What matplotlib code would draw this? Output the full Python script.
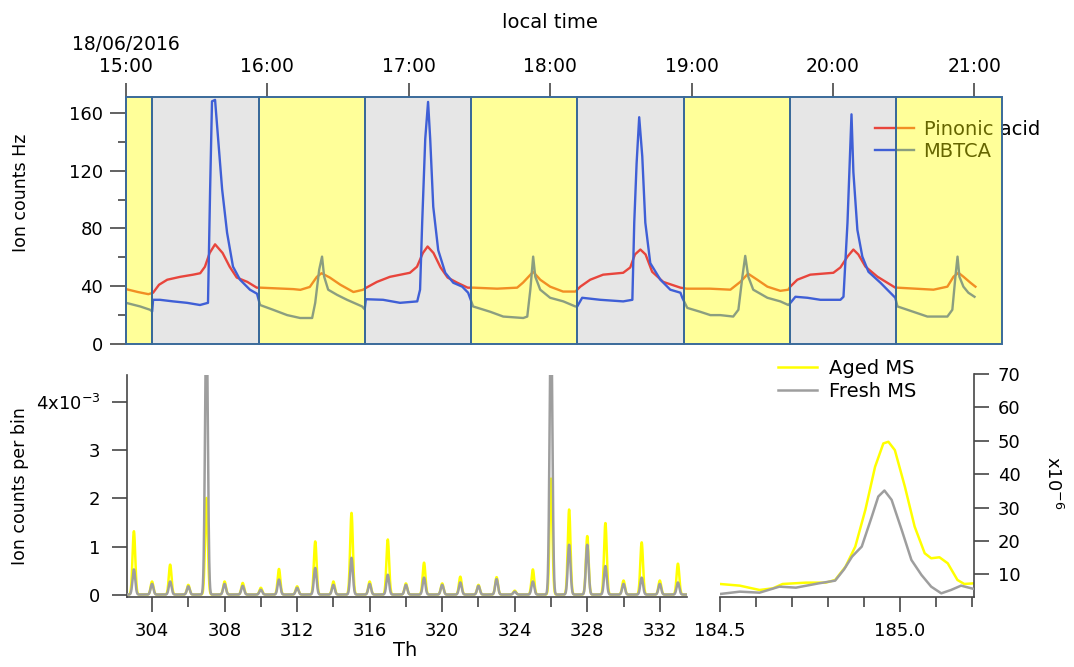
import numpy as np
import matplotlib
matplotlib.use('Agg')
import matplotlib.pyplot as plt
from matplotlib.patches import Rectangle
from matplotlib.ticker import FixedLocator

# ---------------- data ----------------
# top panel: minutes after 15:00 on 18/06/2016
hour_ticks_min = [0, 60, 120, 180, 240, 300, 360]
hour_labels = ['18/06/2016\n15:00', '16:00', '17:00', '18:00', '19:00', '20:00', '21:00']

period_edges = [0, 11.2, 56.6, 101.5, 146.4, 191.4, 236.7, 281.7, 326.8, 371.6]
period_type = ['A', 'B', 'A', 'B', 'A', 'B', 'A', 'B', 'A']

pin_t = [0, 5, 9.5, 11.5, 14, 17.5, 23, 28.5, 31.5, 33.5, 35.5, 37.8, 41, 44, 47, 51.5, 55.5,
         57, 71, 74, 78, 81, 83, 86.5, 91, 96.5, 100.5,
         102, 106.5, 112, 120.5, 123.5, 126, 128, 130.5, 133.5, 136.5, 140.5, 145,
         147.5, 157.5, 166, 168.5, 172.8, 175.8, 180, 185.5, 190.7,
         192.8, 197, 202.5, 211, 214, 216, 218.3, 220.5, 223.3, 228, 235.3,
         238, 247.8, 256.5, 260.7, 264, 267.9, 272.2, 277.7, 281.1,
         281.9, 284.9, 290.4, 300.2, 303.2, 306.2, 308.7, 310.8, 313.8, 318.9, 326.5,
         327.4, 342.7, 348.6, 351.2, 353.3, 355.4, 358.4, 360.5]
pin_v = [38, 36, 34.5, 35.5, 41, 44.5, 46.5, 48, 49, 53.5, 63, 69, 63, 53.5, 46, 43, 39,
         39, 38, 37.5, 39.5, 46.5, 49, 46, 41, 36, 37.5,
         39, 43, 46.5, 49.3, 53.5, 63, 67.5, 63, 53, 46, 42.5, 39,
         39, 38.3, 39, 42.5, 50, 44.5, 39.7, 36.3, 36.3,
         39.7, 44.5, 48, 49.3, 53, 62, 65.4, 62, 50, 43, 39,
         38.3, 38.3, 37.6, 43, 48.7, 44.5, 39.7, 36.8, 37.6,
         39.7, 44.5, 48, 49.3, 53, 60.5, 65.4, 62, 53.6, 46.6, 39,
         39, 37.6, 39.7, 46.6, 49.3, 46.6, 42.4, 39.7]

mb_t = [0, 6, 10.2, 11.1,
        11.5, 14.4, 20, 25.9, 31.4, 34.8, 35.7, 36.5, 37.8, 39.1, 40.8, 42.9, 45.4, 48.4, 52.6, 55.6,
        56.9, 62.4, 68.4, 73.9, 79, 80.3, 82, 83.2, 84.1, 85.8, 89.6, 93.8, 100.2, 101.3,
        101.8, 109.1, 116.3, 123.6, 124.8, 125.7, 127, 128.2, 129.1, 130.4, 132.5, 135.5, 138.9, 142.7, 145.2, 146.3,
        147.3, 154.6, 160.1, 168.6, 170.3, 171.6, 172.8, 173.7, 175.8, 180, 185.6, 190.7,
        191.5, 193.6, 201.3, 211, 214.9, 215.7, 216.7, 217.8, 219.1, 220.4, 222.5, 226.8, 231, 235.3, 236.1,
        238.2, 243.7, 248, 252.2, 257.7, 259.9, 261.6, 262.8, 264.1, 266.2, 272.2, 277.7, 281.1,
        282, 284.1, 289.2, 294.7, 303.2, 304.5, 306.2, 307.9, 308.7, 310.4, 312.5, 315.1, 320.2, 323.1, 326.5,
        327.4, 331.6, 340.1, 348.6, 350.7, 352, 352.9, 353.7, 355.4, 357.5, 360.1]
mb_v = [28.5, 26, 23.7, 22.5,
        30.6, 30.6, 29.5, 28.5, 27, 28.5, 107, 168, 169, 142, 107, 77, 53.6, 44.5, 37.6, 34.8,
        27, 23.7, 20, 18, 18, 28.5, 51.5, 60.5, 46.6, 37.6, 34, 30.6, 26, 24,
        31, 30.6, 28.5, 29.5, 37.6, 84, 142, 167.6, 142, 95, 65, 49.3, 42.4, 39.7, 35.5, 30.6,
        26, 22.3, 19, 18, 19, 37.6, 60.5, 46.6, 37.6, 32, 29.5, 26,
        26, 32, 30.6, 29.5, 30.6, 84, 125, 157, 130, 84, 56, 44.5, 37.6, 35.5, 32,
        25, 22.3, 20, 20, 19, 23.7, 46.6, 61, 46.6, 37.6, 32, 29.5, 27,
        28.5, 32.7, 32, 30.6, 30.6, 32.7, 84, 159, 119, 79, 60.5, 50, 42.4, 37.6, 32,
        26, 23.7, 19, 19, 23.7, 46.6, 60.5, 46.6, 39.7, 35.5, 32.7]

# bottom-left: mass spectra peaks (Th) and heights (x1e-3 ion counts per bin)
masses = list(range(303, 334))
aged_e3 = [1.31, 0.27, 0.62, 0.20, 2.0, 0.27, 0.24, 0.14, 0.53, 0.17, 1.10, 0.27, 1.69, 0.27,
           1.14, 0.23, 0.66, 0.23, 0.37, 0.20, 0.36, 0.08, 0.52, 2.4, 1.76, 1.21, 1.48, 0.29,
           1.08, 0.29, 0.64]
fresh_e3 = [0.52, 0.22, 0.27, 0.17, 6.0, 0.22, 0.18, 0.10, 0.31, 0.14, 0.55, 0.20, 0.76, 0.22,
            0.41, 0.20, 0.35, 0.20, 0.25, 0.18, 0.32, 0.06, 0.27, 6.0, 1.03, 1.03, 0.59, 0.22,
            0.35, 0.22, 0.25]
baseline_e3 = 0.01

# bottom-right: high-resolution region (x1e-6)
hr_aged_x = [184.5, 184.555, 184.61, 184.647, 184.674, 184.739, 184.794, 184.82, 184.849,
             184.876, 184.904, 184.931, 184.954, 184.968, 184.986, 185.014, 185.041, 185.069,
             185.087, 185.11, 185.133, 185.16, 185.179, 185.206]
hr_aged_v = [7.1, 6.6, 5.3, 5.8, 7.1, 7.5, 7.5, 8.3, 12.3, 18.3, 29.3, 42.2, 49.2, 49.7, 47.2,
             36.2, 24.3, 16.3, 14.8, 15.1, 13.3, 8.3, 7.1, 7.3]
hr_fresh_x = [184.5, 184.555, 184.61, 184.665, 184.711, 184.775, 184.82, 184.845, 184.867,
              184.894, 184.922, 184.94, 184.957, 184.977, 185.005, 185.032, 185.06, 185.087,
              185.115, 185.142, 185.17, 185.206]
hr_fresh_v = [4.1, 4.8, 4.5, 6.3, 6.0, 7.3, 8.1, 11.5, 15.3, 18.3, 27.3, 33.3, 35.1, 32.3,
              23.3, 14.3, 9.8, 6.3, 4.3, 5.3, 6.6, 5.6]

# ---------------- figure ----------------
plt.rcParams['font.family'] = ['DejaVu Sans']
W, H = 1074, 667
fig = plt.figure(figsize=(W / 100, H / 100), dpi=100)
axc = '#474747'
red = '#e8453c'
blue = '#3f5fd6'
edge = '#3a6a9a'
ymax_top = 171

ax1 = fig.add_axes([126 / W, 1 - 344 / H, 877 / W, 247 / H])
ax1.set_xlim(0, 372.2)
ax1.set_ylim(0, ymax_top)
for i in range(len(period_edges) - 1):
    a, b = period_edges[i], period_edges[i + 1]
    if period_type[i] == 'A':
        ax1.axvspan(a, b, facecolor=(1, 1, 0, 0.4), edgecolor='none', zorder=6)
    else:
        ax1.axvspan(a, b, facecolor='#e6e6e6', edgecolor='none', zorder=1)
    ax1.add_patch(Rectangle((a, 0), b - a, ymax_top, fill=False, ec=edge, lw=1.4,
                            zorder=7, clip_on=False))
ax1.plot(pin_t, pin_v, color=red, lw=1.7, zorder=3, label='Pinonic acid')
ax1.plot(mb_t, mb_v, color=blue, lw=1.7, zorder=3, label='MBTCA')
for s in ['top', 'right', 'bottom']:
    ax1.spines[s].set_visible(False)
ax1.spines['left'].set_color(axc)
ax1.spines['left'].set_linewidth(1.2)
ax1.yaxis.set_major_locator(FixedLocator([0, 40, 80, 120, 160]))
ax1.yaxis.set_minor_locator(FixedLocator([20, 60, 100, 140]))
ax1.tick_params(axis='y', which='major', length=11.5, width=1.2, color=axc, labelsize=13, pad=5)
ax1.tick_params(axis='y', which='minor', length=6, width=1.2, color=axc)
ax1.xaxis.tick_top()
ax1.set_xticks(hour_ticks_min)
ax1.set_xticklabels(hour_labels)
ax1.tick_params(axis='x', which='major', length=10, width=1.2, color=axc, labelsize=13.5, pad=5)
ax1.set_ylabel('Ion counts Hz', fontsize=12.5)
ax1.yaxis.set_label_coords((30 - 126) / 877, (344 - 193) / 247)
leg = ax1.legend(loc='upper left', bbox_to_anchor=(875 / W, 1 - 120 / H),
                 bbox_transform=fig.transFigure, frameon=False, fontsize=14,
                 handlelength=2.0, handletextpad=0.5, borderpad=0, borderaxespad=0,
                 labelspacing=0.15)
leg.set_zorder(5)
fig.text(550 / W, 1 - 22 / H, 'local time', ha='center', va='center', fontsize=14)

# bottom-left spectrum
ax2 = fig.add_axes([127 / W, 1 - 597 / H, 560 / W, 222 / H])
xs = np.linspace(302.62, 333.5, 8000)
sig = 0.075
aged_curve = np.full_like(xs, baseline_e3)
fresh_curve = np.full_like(xs, baseline_e3)
for m, ha, hf in zip(masses, aged_e3, fresh_e3):
    g = np.exp(-0.5 * ((xs - m) / sig) ** 2)
    aged_curve += ha * g
    fresh_curve += hf * g
ax2.plot(xs, aged_curve, color='#ffff00', lw=1.8, zorder=2)
ax2.plot(xs, fresh_curve, color='#9e9e9e', lw=1.8, zorder=3)
ax2.set_xlim(302.62, 333.5)
ax2.set_ylim(-0.041, 4.555)
for s in ['top', 'right']:
    ax2.spines[s].set_visible(False)
for s in ['left', 'bottom']:
    ax2.spines[s].set_color(axc)
    ax2.spines[s].set_linewidth(1.2)
ax2.xaxis.set_major_locator(FixedLocator(list(range(304, 334, 4))))
ax2.xaxis.set_minor_locator(FixedLocator(list(range(306, 334, 4))))
ax2.set_yticks([0, 1, 2, 3, 4])
ax2.set_yticklabels(['0', '1', '2', '3', r'4x10$^{-3}$'])
ax2.tick_params(axis='both', which='major', length=11, width=1.2, color=axc, labelsize=13)
ax2.tick_params(axis='y', which='major', pad=8)
ax2.tick_params(axis='x', which='major', pad=7)
ax2.tick_params(axis='x', which='minor', length=7, width=1.2, color=axc)
ax2.set_ylabel('Ion counts per bin', fontsize=12.5)
ax2.yaxis.set_label_coords((29 - 127) / 560, 0.5)
fig.text(405 / W, 1 - 651 / H, 'Th', ha='center', va='center', fontsize=14)

# bottom-right high resolution
ax3 = fig.add_axes([720 / W, 1 - 597 / H, 254 / W, 223 / H])
la, = ax3.plot(hr_aged_x, hr_aged_v, color='#ffff00', lw=1.8, zorder=2)
lf, = ax3.plot(hr_fresh_x, hr_fresh_v, color='#9e9e9e', lw=1.8, zorder=3)
ax3.set_xlim(184.5, 185.206)
ax3.set_ylim(3.2, 70)
for s in ['top', 'left']:
    ax3.spines[s].set_visible(False)
for s in ['right', 'bottom']:
    ax3.spines[s].set_color(axc)
    ax3.spines[s].set_linewidth(1.2)
ax3.yaxis.tick_right()
ax3.set_yticks([10, 20, 30, 40, 50, 60, 70])
ax3.xaxis.set_major_locator(FixedLocator([184.5, 185.0]))
ax3.set_xticklabels(['184.5', '185.0'])
ax3.xaxis.set_minor_locator(FixedLocator([184.6, 184.7, 184.8, 184.9, 185.1, 185.2]))
ax3.tick_params(axis='both', which='major', length=11, width=1.2, color=axc, labelsize=13)
ax3.tick_params(axis='x', which='major', pad=7)
ax3.tick_params(axis='y', which='major', pad=6)
ax3.tick_params(axis='x', which='minor', length=7.5, width=1.2, color=axc)
fig.text(1053 / W, 1 - 483 / H, r'x10$^{-6}$', rotation=-90, ha='center', va='center',
         fontsize=13)
fig.legend([la, lf], ['Aged MS', 'Fresh MS'], loc='upper left',
           bbox_to_anchor=(778 / W, 1 - 359 / H), frameon=False, fontsize=14,
           handlelength=2.0, handletextpad=0.6, borderpad=0, borderaxespad=0,
           labelspacing=0.2)

fig.savefig('out.png', dpi=100)
